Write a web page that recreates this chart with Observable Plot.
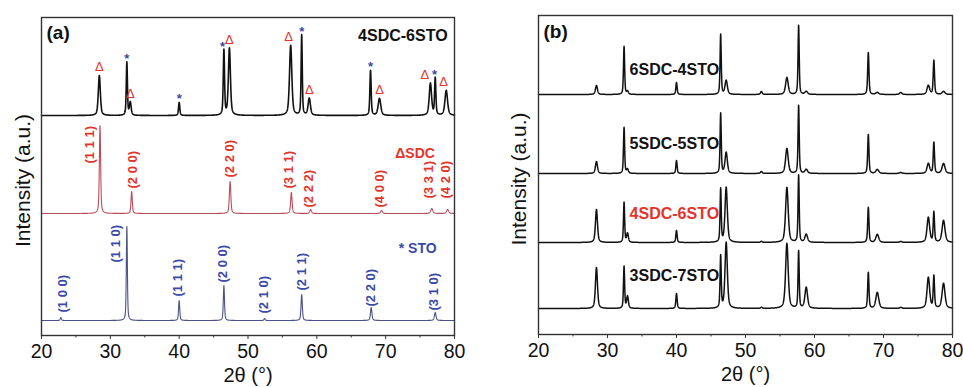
<!DOCTYPE html>
<html><head><meta charset="utf-8">
<script src="https://cdn.jsdelivr.net/npm/d3@7"></script>
<script src="https://cdn.jsdelivr.net/npm/@observablehq/plot@0.6"></script>
<style>
body{margin:0;background:#fff;font-family:"Liberation Sans",Arial,sans-serif}
#wrap{position:relative;width:963px;height:387px;overflow:hidden}
#a{position:absolute;left:0;top:0}
#b{position:absolute;left:490px;top:0}
</style></head>
<body><div id="wrap"><div id="a"></div><div id="b"></div></div>
<script>
// ---------- axis ticks ----------
const X_TICKS = [20, 30, 40, 50, 60, 70, 80];
const X_MINOR = [25, 35, 45, 55, 65, 75];

// ---------- panel (a): 4SDC-6STO composite ----------
const mixA_pos   = [28.4, 32.4, 32.9, 40.0, 46.5, 47.3, 56.2, 57.8, 58.9, 67.8, 69.1, 76.5, 77.2, 78.8];
const mixA_int   = [40, 53, 13, 13, 65, 67, 70, 80, 17, 45, 17, 32, 37, 25];
const mixA_fwhm  = [0.35, 0.2, 0.3, 0.22, 0.22, 0.35, 0.4, 0.2, 0.4, 0.22, 0.45, 0.4, 0.22, 0.45];
const mixA_phase = ["Δ", "*", "Δ", "*", "*", "Δ", "Δ", "*", "Δ", "*", "Δ", "Δ", "*", "Δ"];
const mixA_markX = [28.4, 32.4, 32.9, 40.0, 46.3, 47.3, 55.9, 57.8, 58.9, 67.8, 69.1, 75.7, 77.1, 78.4];

// SDC reference pattern
const sdc_pos  = [28.5, 33.1, 47.4, 56.3, 59.1, 69.4, 76.7, 79.0];
const sdc_int  = [88, 22, 32, 21, 4, 3, 5, 4];
const sdc_fwhm = [0.22, 0.22, 0.25, 0.25, 0.3, 0.3, 0.35, 0.35];
const sdc_hkl  = ["(1 1 1)", "(2 0 0)", "(2 2 0)", "(3 1 1)", "(2 2 2)", "(4 0 0)", "(3 3 1)", "(4 2 0)"];
const sdc_lblX = [27.0, 33.2, 47.3, 55.9, 58.8, 69.1, 76.2, 78.7];
const sdc_lblY = [50, 25, 36, 25, 6, 6, 15, 15];

// STO reference pattern
const sto_pos  = [22.8, 32.4, 40.0, 46.5, 52.4, 57.8, 67.9, 77.2];
const sto_int  = [3, 94, 20, 35, 2, 26, 13, 8];
const sto_fwhm = [0.2, 0.18, 0.2, 0.2, 0.2, 0.22, 0.25, 0.28];
const sto_hkl  = ["(1 0 0)", "(1 1 0)", "(1 1 1)", "(2 0 0)", "(2 1 0)", "(2 1 1)", "(2 2 0)", "(3 1 0)"];
const sto_lblX = [23.1, 30.75, 39.8, 46.4, 52.3, 57.8, 67.8, 77.0];
const sto_lblY = [8, 58, 24, 38, 7, 30, 14, 10];

const offA = [220, 122, 15]; // stacking offsets: composite, SDC, STO

// ---------- panel (b): composites ----------
const samplesB  = ["6SDC-4STO", "5SDC-5STO", "4SDC-6STO", "3SDC-7STO"];
const samplesB_color = ["#111", "#111", "#e3342c", "#111"];
const offB      = [240, 161, 92, 26];
const labelB_y  = [25, 30, 29, 33];
const labelB_x  = 33.2;
const b_pos  = [28.4, 32.4, 32.9, 40.0, 46.4, 47.2, 52.3, 56.0, 57.7, 58.8, 67.8, 69.1, 72.5, 76.5, 77.3, 78.7];
const b_fwhm = [0.35, 0.2, 0.3, 0.22, 0.2, 0.4, 0.3, 0.45, 0.2, 0.45, 0.22, 0.5, 0.4, 0.45, 0.22, 0.5];
const b_6SDC = [9, 48, 3, 12, 60, 14, 3, 17, 69, 3, 42, 2, 2, 9, 34, 3];
const b_5SDC = [12, 46, 4, 13, 60, 21, 2, 25, 68, 4, 39, 4, 1, 10, 31, 10];
const b_4SDC = [33, 40, 9, 12, 53, 55, 1, 55, 67, 8, 35, 8, 1, 25, 30, 22];
const b_3SDC = [41, 42, 12, 15, 52, 66, 1, 65, 57, 21, 36, 16, 1, 31, 32, 25];

// ---------- helpers ----------
const FONT = "Liberation Sans, Arial, sans-serif";
function profile(pos, ints, fw, offset) {
  const grid = d3.range(20, 80.00001, 0.02).concat(pos).sort((a, b) => a - b);
  return grid.map(x => {
    let y = offset;
    for (let i = 0; i < pos.length; i++) {
      const t = (x - pos[i]) / (fw[i] / 2);
      y += ints[i] * (0.5 / (1 + t * t) + 0.5 * Math.exp(-Math.LN2 * t * t));
    }
    return {x, y};
  });
}
function axes(dxLabel) {
  return [
    Plot.frame({stroke: "#333", strokeWidth: 1.4}),
    Plot.axisX(X_TICKS, {tickSize: 4, tickPadding: 5, fontSize: 19.5, fill: "#111", stroke: "#333", label: null}),
    Plot.axisX(X_MINOR, {tickSize: 2.5, tickFormat: () => "", stroke: "#333", label: null}),
    Plot.text([0], {frameAnchor: "bottom", text: () => "2θ (°)", lineAnchor: "middle", textAnchor: "middle", dy: 40, fontSize: 20, fill: "#111"}),
    Plot.text([0], {frameAnchor: "left", text: () => "Intensity (a.u.)", rotate: -90, textAnchor: "middle", lineAnchor: "middle", dx: dxLabel, dy: 4, fontSize: 21, fill: "#111"})
  ];
}

// ---------- panel (a) ----------
const mixA = profile(mixA_pos, mixA_int, mixA_fwhm, offA[0]);
const sdcA = profile(sdc_pos, sdc_int, sdc_fwhm, offA[1]);
const stoA = profile(sto_pos, sto_int, sto_fwhm, offA[2]);
const markers = mixA_pos.map((p, i) => ({x: mixA_markX[i], y: offA[0] + mixA_int[i], t: mixA_phase[i]}));
const sdcLbl = sdc_hkl.map((t, i) => ({x: sdc_lblX[i], y: offA[1] + sdc_lblY[i], t}));
const stoLbl = sto_hkl.map((t, i) => ({x: sto_lblX[i], y: offA[2] + sto_lblY[i], t}));

const plotA = Plot.plot({
  width: 490, height: 387,
  marginLeft: 41, marginRight: 36, marginTop: 17, marginBottom: 52,
  x: {domain: [20, 80], label: null, axis: null},
  y: {domain: [0, 318], axis: null},
  style: {fontFamily: FONT, background: "#fff"},
  marks: [
    Plot.line(stoA, {x: "x", y: "y", stroke: "#4a5288", strokeWidth: 1.1}),
    Plot.line(sdcA, {x: "x", y: "y", stroke: "#b94d5e", strokeWidth: 1.1}),
    Plot.line(mixA, {x: "x", y: "y", stroke: "#111", strokeWidth: 1.6}),
    Plot.text(markers.filter(d => d.t === "Δ"), {x: "x", y: "y", text: "t", dy: -9, fontSize: 13, fill: "#e3342c"}),
    Plot.text(markers.filter(d => d.t === "*"), {x: "x", y: "y", text: "t", dy: -4, fontSize: 13, fontWeight: "bold", fill: "#3b4aa8"}),
    Plot.text(sdcLbl, {x: "x", y: "y", text: "t", rotate: -90, textAnchor: "start", fontSize: 13, fontWeight: "bold", fill: "#e3342c"}),
    Plot.text(stoLbl, {x: "x", y: "y", text: "t", rotate: -90, textAnchor: "start", fontSize: 13, fontWeight: "bold", fill: "#3b4aa8"}),
    Plot.text([0], {x: 79.0, y: 300, text: () => "4SDC-6STO", textAnchor: "end", fontSize: 16, fontWeight: "bold", fill: "#111"}),
    Plot.text([0], {x: 71.4, y: 182, text: () => "ΔSDC", textAnchor: "start", fontSize: 14, fontWeight: "bold", fill: "#e3342c"}),
    Plot.text([0], {x: 71.9, y: 87, text: () => "* STO", textAnchor: "start", fontSize: 14, fontWeight: "bold", fill: "#3b4aa8"}),
    Plot.text([0], {frameAnchor: "top-left", text: () => "(a)", lineAnchor: "middle", dx: 5, dy: 15, fontSize: 19, fontWeight: "bold", fill: "#111"}),
    ...axes(-18)
  ]
});
document.getElementById("a").appendChild(plotA);

// ---------- panel (b) ----------
const seriesB = [b_6SDC, b_5SDC, b_4SDC, b_3SDC];
const linesB = seriesB.map((s, k) => profile(b_pos, s, b_fwhm, offB[k]));
const labelsB = samplesB.map((t, k) => ({x: labelB_x, y: offB[k] + labelB_y[k], t, c: samplesB_color[k]}));

const plotB = Plot.plot({
  width: 473, height: 387,
  marginLeft: 48, marginRight: 11, marginTop: 15, marginBottom: 53,
  x: {domain: [20, 80], label: null, axis: null},
  y: {domain: [0, 319], axis: null},
  style: {fontFamily: FONT, background: "#fff"},
  marks: [
    ...linesB.map(L => Plot.line(L, {x: "x", y: "y", stroke: "#111", strokeWidth: 1.5})),
    Plot.text(labelsB, {x: "x", y: "y", text: "t", fill: "c", textAnchor: "start", fontSize: 16, fontWeight: "bold"}),
    Plot.text([0], {frameAnchor: "top-left", text: () => "(b)", lineAnchor: "middle", dx: 5, dy: 16, fontSize: 19, fontWeight: "bold", fill: "#111"}),
    ...axes(-19)
  ]
});
document.getElementById("b").appendChild(plotB);
</script>
</body></html>
